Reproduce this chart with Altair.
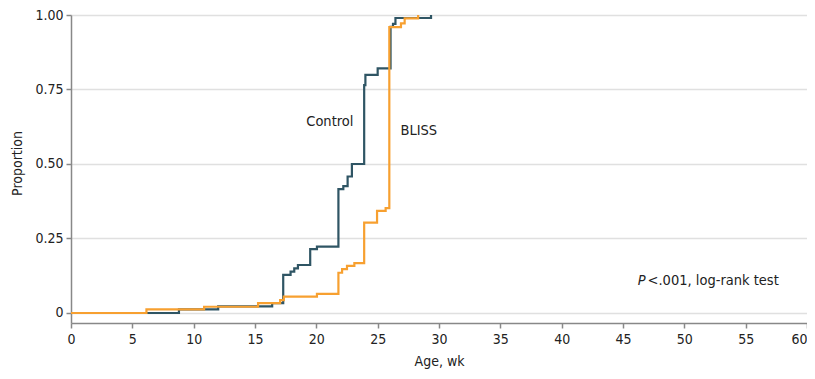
import altair as alt
import pandas as pd

# Kaplan-Meier style cumulative proportions (step-after)
control_wk = [0, 8.8, 12.0, 16.4, 17.3, 17.9, 18.2, 18.5, 19.5, 20.05, 21.8, 22.2, 22.55, 22.9, 23.9, 24.0, 25.0, 26.05, 26.25, 26.45, 29.35, 29.35]
control_p  = [0, 0.012, 0.022, 0.033, 0.128, 0.139, 0.150, 0.161, 0.214, 0.223, 0.416, 0.426, 0.458, 0.50, 0.765, 0.799, 0.821, 0.96, 0.97, 0.99, 0.99, 1.0]

bliss_wk = [0, 6.15, 10.85, 15.25, 17.05, 17.35, 20.05, 21.8, 22.1, 22.5, 23.1, 23.9, 24.95, 25.65, 25.95, 26.9, 27.2, 28.3, 28.3]
bliss_p  = [0, 0.012, 0.021, 0.033, 0.043, 0.055, 0.064, 0.135, 0.147, 0.158, 0.167, 0.303, 0.343, 0.352, 0.959, 0.972, 0.989, 0.989, 1.0]

groups = ["Control", "BLISS"]
colors = ["#2f5564", "#f7a030"]

y_ticks = [0, 0.25, 0.5, 0.75, 1.0]
x_ticks = list(range(0, 61, 5))

df = pd.concat([
    pd.DataFrame({"wk": control_wk, "p": control_p, "group": "Control", "ord": range(len(control_wk))}),
    pd.DataFrame({"wk": bliss_wk, "p": bliss_p, "group": "BLISS", "ord": range(len(bliss_wk))}),
])

# annotation labels (data coordinates)
ann_text = ["Control", "BLISS"]
ann_wk = [21.1, 28.35]
ann_p = [0.641, 0.611]

FONT = "DejaVu Sans Condensed, Roboto, sans-serif"

x_enc = alt.X("wk:Q", scale=alt.Scale(domain=[0, 60], nice=False),
              axis=alt.Axis(values=x_ticks, title="Age, wk", grid=False, tickSize=5,
                            labelFlush=False,
                            labelAlign={"expr": "datum.value == 60 ? 'right' : 'center'"},
                            labelPadding=4, titlePadding=8))
y_enc = alt.Y("p:Q", scale=alt.Scale(domain=[-0.0336, 1.0], nice=False, zero=False),
              axis=alt.Axis(values=y_ticks, title="Proportion", grid=True, tickSize=5,
                            labelFlush=False,
                            labelExpr="datum.value == 0 ? '0' : format(datum.value, '.2f')",
                            titleX=-54, titleY=148, titleAlign="center", titleBaseline="middle",
                            titleAngle=-90, labelPadding=3))

lines = alt.Chart(df).mark_line(interpolate="step-after", strokeWidth=2.2).encode(
    x=x_enc, y=y_enc,
    color=alt.Color("group:N", scale=alt.Scale(domain=groups, range=colors), legend=None),
    order="ord:Q",
    detail="group:N",
)

ann = alt.Chart(pd.DataFrame({"t": ann_text, "wk": ann_wk, "p": ann_p})).mark_text(
    fontSize=14.5, font=FONT, color="#222"
).encode(x="wk:Q", y="p:Q", text="t:N")

ptxt_i = alt.Chart(pd.DataFrame({"t": ["P"], "wk": [46.85], "p": [0.107]})).mark_text(
    fontSize=14.5, font=FONT, fontStyle="italic", align="right", color="#222"
).encode(x="wk:Q", y="p:Q", text="t:N")
ptxt = alt.Chart(pd.DataFrame({"t": ["<.001, log-rank test"], "wk": [47.0], "p": [0.107]})).mark_text(
    fontSize=14.5, font=FONT, align="left", color="#222"
).encode(x="wk:Q", y="p:Q", text="t:N")

chart = alt.layer(lines, ann, ptxt_i, ptxt).properties(
    width=736, height=308,
    autosize=alt.AutoSizeParams(type="none"),
    padding={"left": 63, "top": 7, "right": 0, "bottom": 48},
).configure_view(stroke=None).configure_axis(
    labelFont=FONT, titleFont=FONT, labelFontSize=14, titleFontSize=14,
    labelColor="#222", titleColor="#222", titleFontWeight="normal",
    domainColor="#888", tickColor="#888", domainWidth=1.5, tickWidth=1.5,
    gridColor="#e0e0e0", gridWidth=1.5,
)

chart.save("out.html", embed_options={"renderer": "svg", "actions": False})
